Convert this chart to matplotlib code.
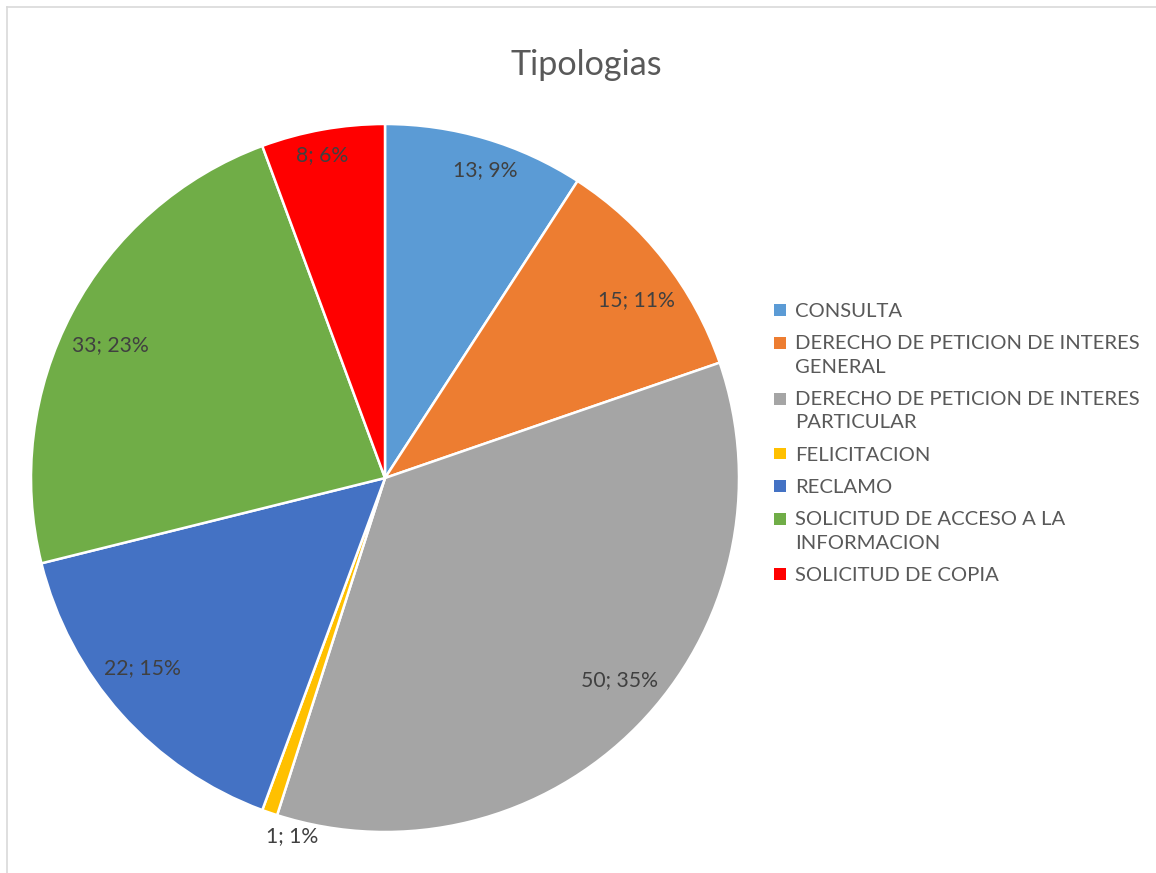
import matplotlib.pyplot as plt
import numpy as np
from matplotlib.lines import Line2D
from matplotlib.patches import Rectangle

categories = [
    "CONSULTA",
    "DERECHO DE PETICION DE INTERES\nGENERAL",
    "DERECHO DE PETICION DE INTERES\nPARTICULAR",
    "FELICITACION",
    "RECLAMO",
    "SOLICITUD DE ACCESO A LA\nINFORMACION",
    "SOLICITUD DE COPIA",
]
values = [13, 15, 50, 1, 22, 33, 8]
pct_labels = ["9%", "11%", "35%", "1%", "15%", "23%", "6%"]
colors = ["#5B9BD5", "#ED7D31", "#A5A5A5", "#FFC000", "#4472C4", "#70AD47", "#FF0000"]
# label placement (best-fit style): radius fraction and angle nudge in degrees
label_radius = [0.915, 0.87, 0.873, 1.045, 0.87, 0.863, 0.929]
label_nudge = [-1.5, -2.7, 3.6, 4.4, -3.7, 2.1, 0.8]

plt.rcParams['font.family'] = ['Lato', 'DejaVu Sans']

W, H = 1156, 873
fig = plt.figure(figsize=(W / 100, H / 100), dpi=100)

cx, cy, r = 385, 478, 354
ax = fig.add_axes([(cx - r) / W, (H - cy - r) / H, 2 * r / W, 2 * r / H])
wedges, _ = ax.pie(values, colors=colors, startangle=90, counterclock=False,
                   radius=1, wedgeprops=dict(edgecolor="white", linewidth=1.8))
ax.set_xlim(-1, 1)
ax.set_ylim(-1, 1)
ax.set_aspect("equal")
ax.axis("off")

for w, v, p, lr, dn in zip(wedges, values, pct_labels, label_radius, label_nudge):
    ang = np.deg2rad((w.theta1 + w.theta2) / 2 + dn)
    ax.text(lr * np.cos(ang), lr * np.sin(ang), f"{v}; {p}", ha="center", va="center",
            fontsize=15.2, color="#404040")

fig.text(586 / W, 1 - 75 / H, "Tipologias", ha="center", va="baseline",
         fontsize=24.6, color="#595959")


class SquareHandler:
    # legend square sitting on the first text line, like Excel
    def __init__(self, lift):
        self.lift = lift

    def legend_artist(self, legend, orig_handle, fontsize, handlebox):
        x0, y0 = handlebox.xdescent, handlebox.ydescent
        w, h = handlebox.width, handlebox.height
        s = 8.6
        sq = Rectangle((-x0 + w / 2 - s / 2, -y0 + h / 2 - s / 2 + self.lift), s, s,
                       facecolor=orig_handle.get_facecolor(), edgecolor="none",
                       transform=handlebox.get_transform())
        handlebox.add_artist(sq)
        return sq


handles = [Rectangle((0, 0), 1, 1, facecolor=c) for c in colors]
hmap = {h: SquareHandler(8.7 * lab.count("\n")) for h, lab in zip(handles, categories)}
leg = fig.legend(handles, categories, loc="upper left", handler_map=hmap,
                 bbox_to_anchor=(772 / W, 1 - 303 / H), frameon=False,
                 fontsize=14.6, labelspacing=0.75, handlelength=0.8,
                 handletextpad=0.35, borderpad=0, borderaxespad=0)
for t in leg.get_texts():
    t.set_color("#595959")
    t.set_linespacing(1.45)

# chart border (only top/left visible)
fig.add_artist(Line2D([6.5 / W, 1], [1 - 6.5 / H, 1 - 6.5 / H], color="#D9D9D9", lw=1.2))
fig.add_artist(Line2D([6.5 / W, 6.5 / W], [0, 1 - 6.5 / H], color="#D9D9D9", lw=1.2))

fig.savefig("out.png", dpi=100)
